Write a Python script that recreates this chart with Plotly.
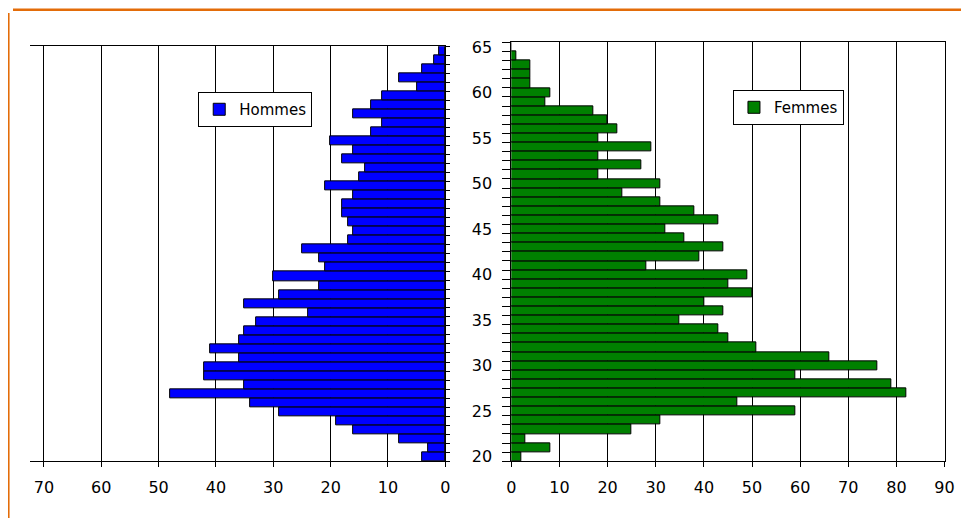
import plotly.graph_objects as go

# ---- data ----
ages = list(range(20, 66))
hommes = [4, 3, 8, 16, 19, 29, 34, 48, 35, 42,
          42, 36, 41, 36, 35, 33, 24, 35, 29, 22,
          30, 21, 22, 25, 17, 16, 17, 18, 18, 16,
          21, 15, 14, 18, 16, 20, 13, 11, 16, 13,
          11, 5, 8, 4, 2, 1]
femmes = [2, 8, 3, 25, 31, 59, 47, 82, 79, 59,
          76, 66, 51, 45, 43, 35, 44, 40, 50, 45,
          49, 28, 39, 44, 36, 32, 43, 38, 31, 23,
          31, 18, 27, 18, 29, 18, 22, 20, 17, 7,
          8, 4, 4, 4, 1, 0]
age_ticks = [20, 25, 30, 35, 40, 45, 50, 55, 60, 65]
left_ticks = [0, 10, 20, 30, 40, 50, 60, 70]
right_ticks = [0, 10, 20, 30, 40, 50, 60, 70, 80, 90]

# page is 979x531; the default 8px body margin is taken out of the figure size
OFF = 8
W, H = 979 - 2 * OFF, 531 - 2 * OFF
# small correction for how the page is photographed
SX, BX = 0.984, 4.0
SY, BY = 0.9856, 2.6
FONT = dict(family="DejaVu Sans", size=16, color="#000000")
LFONT = dict(family="DejaVu Sans", size=15, color="#000000")

def px_x(p):
    return ((p - BX) / SX - OFF) / W

def px_y(p):
    return 1 - ((p - BY) / SY - OFF) / H

fig = go.Figure()
fig.add_trace(go.Bar(
    x=hommes, y=ages, orientation="h", name="Hommes",
    marker=dict(color="#0000FF", line=dict(color="#000000", width=1)),
    xaxis="x", yaxis="y", legend="legend", showlegend=True,
))
fig.add_trace(go.Bar(
    x=femmes, y=ages, orientation="h", name="Femmes",
    marker=dict(color="#008000", line=dict(color="#000000", width=1)),
    xaxis="x2", yaxis="y2", legend="legend2", showlegend=True,
))

boundaries = [a - 0.5 for a in ages] + [ages[-1] + 0.5]

fig.update_layout(
    width=W, height=H,
    margin=dict(l=0, r=0, t=0, b=0),
    paper_bgcolor="white", plot_bgcolor="white",
    font=FONT,
    showlegend=True,
    bargap=0,
    xaxis=dict(
        domain=[px_x(29), px_x(444)], range=[72.4, 0], anchor="y",
        tickmode="array", tickvals=left_ticks,
        showgrid=True, gridcolor="#000000", gridwidth=1,
        showline=True, linecolor="#000000", linewidth=1, mirror=True,
        ticks="outside", ticklen=5, tickcolor="#000000",
        zeroline=False, ticklabelstandoff=7, tickfont=FONT,
    ),
    yaxis=dict(
        domain=[px_y(461), px_y(44)], range=[19.5, 65.5], anchor="x",
        side="right", showticklabels=False, ticks="",
        showgrid=False, zeroline=False,
        showline=True, linecolor="#000000", linewidth=1,
        minor=dict(tickmode="array", tickvals=boundaries, ticks="outside",
                   ticklen=4, tickcolor="#000000", showgrid=False),
    ),
    xaxis2=dict(
        domain=[px_x(510), px_x(943)], range=[0, 90], anchor="y2",
        tickmode="array", tickvals=right_ticks,
        showgrid=True, gridcolor="#000000", gridwidth=1,
        showline=True, linecolor="#000000", linewidth=1, mirror=True,
        ticks="outside", ticklen=5, tickcolor="#000000",
        zeroline=False, ticklabelstandoff=7, tickfont=FONT,
    ),
    yaxis2=dict(
        domain=[px_y(461), px_y(40)], range=[19.5, 65.5], anchor="x2",
        side="left", tickmode="array", tickvals=age_ticks, ticks="",
        showgrid=False, zeroline=False,
        showline=True, linecolor="#000000", linewidth=1, mirror=True,
        ticklabelstandoff=15, tickfont=FONT,
        minor=dict(tickmode="array", tickvals=boundaries, ticks="outside",
                   ticklen=8, tickcolor="#000000", showgrid=False),
    ),
    legend=dict(
        x=px_x(254), y=px_y(107.5), xanchor="center", yanchor="middle",
        bgcolor="white", bordercolor="#000000", borderwidth=1,
        font=LFONT, itemwidth=30,
    ),
    legend2=dict(
        x=px_x(787), y=px_y(105.5), xanchor="center", yanchor="middle",
        bgcolor="white", bordercolor="#000000", borderwidth=1,
        font=LFONT, itemwidth=30,
    ),
    shapes=[
        dict(type="line", xref="paper", yref="paper",
             x0=0.0, x1=1.0, y0=px_y(7.2), y1=px_y(7.2),
             line=dict(color="#E36C09", width=2.5)),
        dict(type="line", xref="paper", yref="paper",
             x0=px_x(7.2), x1=px_x(7.2), y0=0.0, y1=1.0,
             line=dict(color="#E36C09", width=2.5)),
    ],
)

fig.write_html("out.html", config={"displayModeBar": False})
